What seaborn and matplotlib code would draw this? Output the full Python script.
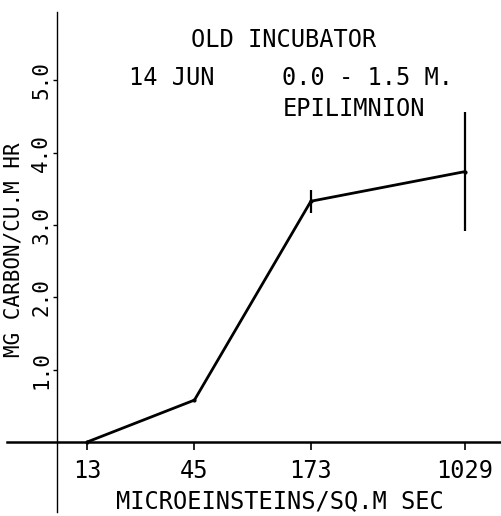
import matplotlib
matplotlib.use("Agg")
import matplotlib.pyplot as plt
import matplotlib.ticker as mticker
import numpy as np
import pandas as pd
import seaborn as sns

# Light-response of carbon uptake, old incubator, 14 June, epilimnion
light = [13, 45, 173, 1029]            # microeinsteins / sq.m sec
rate = [0.0, 0.58, 3.33, 3.74]         # mg carbon / cu.m hr
rate_err = [0.0, 0.0, 0.16, 0.82]      # half-range of replicate spread
x_tick_labels = ["13", "45", "173", "1029"]
y_ticks = [1.0, 2.0, 3.0, 4.0, 5.0]

sns.set_theme(style="white")
plt.rcParams["font.family"] = ["DejaVu Sans Mono", "DejaVu Sans"]
plt.rcParams["text.color"] = "black"
plt.rcParams["axes.labelcolor"] = "black"

FS = 17      # horizontal text
FS_Y = 15    # rotated text along the vertical axis

fig = plt.figure(figsize=(5.02, 5.16), dpi=100)
ax = fig.add_axes([0, 0, 1, 1])
ax.set_xscale("log")
ax.set_xlim(4.75, 1578)
ax.set_ylim(-1.023, 6.113)

df = pd.DataFrame({"light": light, "rate": rate})
sns.lineplot(data=df, x="light", y="rate", color="black", lw=2.0,
             marker="o", markersize=3, markeredgewidth=0, ax=ax)

lo = np.array(rate) - np.array(rate_err)
hi = np.array(rate) + np.array(rate_err)
ax.vlines(light, lo, hi, color="black", lw=1.6)

# axes drawn as plotter-style crossing lines
for side in ("top", "right"):
    ax.spines[side].set_visible(False)
ax.spines["left"].set_position(("data", 9.18))
ax.spines["left"].set_bounds(-0.97, 5.95)
ax.spines["left"].set_linewidth(1.0)
ax.spines["bottom"].set_position(("data", 0))
ax.spines["bottom"].set_bounds(5.16, 1578)
ax.spines["bottom"].set_linewidth(1.8)
for s in ("left", "bottom"):
    ax.spines[s].set_color("black")

ax.xaxis.set_minor_locator(mticker.NullLocator())
ax.set_xticks(light)
ax.set_xticklabels(x_tick_labels)
ax.set_yticks(y_ticks)
ax.set_yticklabels([f"{v:.1f}" for v in y_ticks])
ax.tick_params(axis="x", bottom=True, direction="out", length=6, width=1.2,
               pad=6, labelsize=FS, colors="black")
ax.tick_params(axis="y", left=True, direction="out", length=3, width=1.0,
               pad=1.0, labelsize=FS_Y, colors="black", labelrotation=90)
for lab in ax.get_yticklabels():
    lab.set_verticalalignment("center")

ax.set_xlabel("")
ax.set_ylabel("MG CARBON/CU.M HR", fontsize=FS_Y, va="center", color="black")
ax.yaxis.set_label_coords(14 / 502, 1 - 250 / 516)
fig.text(280 / 502, 1 - 501 / 516, "MICROEINSTEINS/SQ.M SEC",
         fontsize=FS, ha="center", va="center")

fig.text(284 / 502, 1 - 40 / 516, "OLD INCUBATOR", fontsize=FS,
         ha="center", va="center")
fig.text(172 / 502, 1 - 78 / 516, "14 JUN", fontsize=FS,
         ha="center", va="center")
fig.text(368 / 502, 1 - 78 / 516, "0.0 - 1.5 M.", fontsize=FS,
         ha="center", va="center")
fig.text(354 / 502, 1 - 109 / 516, "EPILIMNION", fontsize=FS,
         ha="center", va="center")

fig.savefig("out.png", dpi=100, facecolor="white")
